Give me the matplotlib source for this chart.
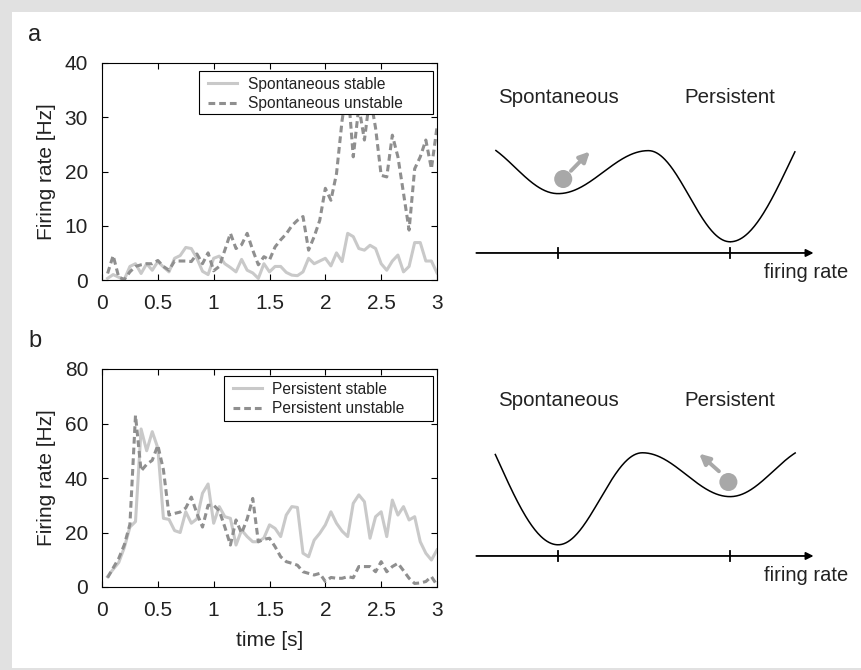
import numpy as np
import matplotlib
matplotlib.use("Agg")
import matplotlib.pyplot as plt
from matplotlib.patches import Rectangle, Circle

plt.rcParams["font.family"] = ["Liberation Sans", "DejaVu Sans"]
plt.rcParams["text.color"] = "#222222"
plt.rcParams["xtick.labelcolor"] = "#222222"
plt.rcParams["ytick.labelcolor"] = "#222222"
plt.rcParams["axes.labelcolor"] = "#222222"

# ---- data ---------------------------------------------------------------
time = [0.05, 0.10, 0.15, 0.20, 0.25, 0.30, 0.35, 0.40, 0.45, 0.50,
        0.55, 0.60, 0.65, 0.70, 0.75, 0.80, 0.85, 0.90, 0.95, 1.00,
        1.05, 1.10, 1.15, 1.20, 1.25, 1.30, 1.35, 1.40, 1.45, 1.50,
        1.55, 1.60, 1.65, 1.70, 1.75, 1.80, 1.85, 1.90, 1.95, 2.00,
        2.05, 2.10, 2.15, 2.20, 2.25, 2.30, 2.35, 2.40, 2.45, 2.50,
        2.55, 2.60, 2.65, 2.70, 2.75, 2.80, 2.85, 2.90, 2.95, 3.00]

spont_stable = [0.3, 1.0, 0.5, 0.1, 2.5, 3.0, 1.2, 3.0, 1.8, 3.4,
                2.4, 1.5, 4.0, 4.5, 6.0, 5.8, 4.0, 1.6, 1.0, 4.0,
                4.4, 3.0, 2.3, 1.5, 3.8, 1.8, 1.3, 0.3, 3.0, 1.5,
                2.5, 2.5, 1.4, 0.9, 0.8, 1.5, 4.0, 3.0, 3.5, 4.0,
                2.6, 5.0, 3.4, 8.6, 8.0, 5.8, 5.5, 6.4, 5.8, 3.0,
                1.8, 3.5, 4.6, 1.5, 2.5, 6.9, 6.9, 3.5, 3.5, 1.3]

spont_unstable = [1.2, 4.5, 0.5, 0.1, 1.5, 2.5, 2.8, 3.0, 3.0, 3.6,
                  2.5, 1.8, 3.5, 3.5, 3.5, 3.4, 4.8, 3.0, 5.0, 1.7,
                  2.5, 5.5, 8.6, 5.8, 6.5, 8.6, 5.5, 2.8, 4.3, 3.7,
                  6.1, 7.4, 8.5, 10.0, 11.0, 11.7, 5.5, 8.0, 11.0, 16.9,
                  14.7, 19.6, 29.4, 36.0, 22.7, 32.0, 25.8, 34.0, 28.0, 19.3,
                  19.0, 26.7, 22.7, 16.0, 9.2, 20.5, 22.7, 25.8, 20.5, 28.2]

pers_stable = [3.8, 6.5, 9.0, 14.5, 22.0, 24.0, 58.0, 50.0, 57.0, 51.0,
               25.2, 24.8, 20.7, 20.0, 27.6, 23.4, 25.0, 34.4, 37.8, 23.4,
               29.5, 25.8, 25.2, 15.4, 20.9, 18.5, 16.6, 16.6, 18.0, 22.8,
               21.5, 18.5, 26.4, 29.5, 29.2, 12.4, 11.1, 17.2, 19.7, 22.8,
               27.6, 23.4, 20.5, 18.5, 30.7, 33.8, 31.3, 17.9, 25.8, 27.6,
               18.5, 31.9, 26.4, 29.5, 24.6, 25.8, 16.6, 12.4, 9.9, 13.6]

pers_unstable = [3.4, 7.0, 10.5, 15.5, 23.0, 63.0, 42.6, 45.0, 46.5, 52.0,
                 43.0, 26.4, 27.0, 27.5, 29.0, 33.0, 27.0, 22.0, 30.0, 30.0,
                 28.0, 22.0, 15.4, 24.6, 19.7, 25.0, 32.5, 16.6, 17.5, 17.9,
                 14.8, 11.1, 9.3, 8.7, 8.0, 5.6, 5.0, 4.4, 5.0, 2.0,
                 3.5, 3.2, 3.2, 3.8, 3.4, 7.5, 7.5, 7.5, 5.6, 9.3,
                 5.6, 7.5, 8.7, 6.0, 3.2, 1.3, 1.5, 2.0, 3.8, 0.7]

x_ticks = [0, 0.5, 1, 1.5, 2, 2.5, 3]
x_ticklabels = ["0", "0.5", "1", "1.5", "2", "2.5", "3"]
yticks_a = [0, 10, 20, 30, 40]
yticks_b = [0, 20, 40, 60, 80]

# schematic energy landscapes: extrema (x, height), first/last are virtual ends
landscape_a = [(0.0, 1.30), (1.0, 0.69), (2.05, 1.19), (3.0, 0.13), (4.4, 2.0)]
landscape_b = [(-0.4, 2.1), (1.0, 0.13), (1.98, 1.20), (3.0, 0.69), (4.0, 1.28)]
curve_span = (0.27, 3.76)
state_pos = [1.0, 3.0]
state_names = ["Spontaneous", "Persistent"]
ball_a = (1.06, 0.86)
ball_b = (2.98, 0.86)
push_a = ((1.15, 0.955), (1.37, 1.18))
push_b = ((2.87, 0.985), (2.64, 1.19))

STABLE = "#c9c9c9"
UNSTABLE = "#8f8f8f"
BALL = "#a8a8a8"
FS = 15


def landscape(ext, lo, hi):
    xs, ys = [], []
    for (x0, y0), (x1, y1) in zip(ext[:-1], ext[1:]):
        seg = np.linspace(x0, x1, 120)
        xs.append(seg)
        ys.append(y0 + (y1 - y0) * (1 - np.cos(np.pi * (seg - x0) / (x1 - x0))) / 2)
    xs, ys = np.concatenate(xs), np.concatenate(ys)
    keep = (xs >= lo) & (xs <= hi)
    return xs[keep], ys[keep]


def trace_panel(ax, y1, y2, lab1, lab2, yticks, box):
    ax.plot(time, y1, color=STABLE, lw=2.2, label=lab1)
    ax.plot(time, y2, color=UNSTABLE, lw=2.2, ls=(0, (2.2, 1.3)), label=lab2)
    ax.set_xlim(0, 3)
    ax.set_ylim(yticks[0], yticks[-1])
    ax.set_xticks(x_ticks)
    ax.set_xticklabels(x_ticklabels)
    ax.set_yticks(yticks)
    ax.tick_params(direction="in", top=True, right=True, length=4.5,
                   width=0.8, labelsize=FS, pad=10)
    for s in ax.spines.values():
        s.set_linewidth(0.8)
    ax.set_ylabel("Firing rate [Hz]", fontsize=FS, labelpad=6)
    # legend box is wider than its text (extra room on the right)
    x0, y0, x1, y1_ = box
    ax.add_patch(Rectangle((x0, y0), x1 - x0, y1_ - y0, transform=ax.transAxes,
                           facecolor="white", edgecolor="black", lw=0.8,
                           zorder=4.8))
    leg = ax.legend(loc="upper left", bbox_to_anchor=(x0 + 0.012, y1_ - 0.005),
                    fontsize=11.2, frameon=False, handlelength=1.9,
                    borderpad=0.3, labelspacing=0.3, handletextpad=0.65,
                    borderaxespad=0)
    leg.set_zorder(5)


def well_panel(ax, ext, ball, push):
    ax.set_xlim(-0.14, 4.51)
    ax.set_ylim(-0.547, 2.244)
    ax.axis("off")
    xs, ys = landscape(ext, *curve_span)
    ax.plot(xs, ys, color="black", lw=1.1)
    ax.annotate("", xy=(3.97, 0), xytext=(0.05, 0),
                arrowprops=dict(arrowstyle="-|>", color="black", lw=1.3,
                                mutation_scale=11, shrinkA=0, shrinkB=0))
    for p, name in zip(state_pos, state_names):
        ax.plot([p, p], [-0.055, 0.055], color="black", lw=1.3)
        ax.text(p, 1.81, name, ha="center", va="center", fontsize=14.8)
    ax.text(4.37, -0.23, "firing rate", ha="right", va="center", fontsize=14.5)
    ax.add_patch(Circle(ball, 0.105, color=BALL, lw=0))
    ax.annotate("", xy=push[1], xytext=push[0],
                arrowprops=dict(arrowstyle="-|>", color=BALL, lw=2.8,
                                mutation_scale=15, shrinkA=0, shrinkB=0))


fig = plt.figure(figsize=(8.61, 6.70), dpi=100)
fig.patch.set_facecolor("#e1e1e1")
fig.patches.append(Rectangle((12 / 861, 2 / 670), 849 / 861, 656 / 670,
                             transform=fig.transFigure, facecolor="white",
                             edgecolor="none", zorder=-1))

ax_a = fig.add_axes([102 / 861, 1 - 280 / 670, 335 / 861, 217 / 670])
trace_panel(ax_a, spont_stable, spont_unstable, "Spontaneous stable",
            "Spontaneous unstable", yticks_a, (0.290, 0.765, 0.988, 0.963))

ax_b = fig.add_axes([102 / 861, 1 - 587 / 670, 335 / 861, 218 / 670])
trace_panel(ax_b, pers_stable, pers_unstable, "Persistent stable",
            "Persistent unstable", yticks_b, (0.364, 0.761, 0.988, 0.968))
ax_b.set_xlabel("time [s]", fontsize=FS, labelpad=8)

ax_wa = fig.add_axes([460 / 861, 1 - 300 / 670, 400 / 861, 240 / 670])
well_panel(ax_wa, landscape_a, ball_a, push_a)
ax_wb = fig.add_axes([460 / 861, 1 - 603 / 670, 400 / 861, 240 / 670])
well_panel(ax_wb, landscape_b, ball_b, push_b)

fig.text(28 / 861, 1 - 35 / 670, "a", fontsize=17, ha="left", va="center")
fig.text(28 / 861, 1 - 341 / 670, "b", fontsize=17, ha="left", va="center")

fig.savefig("out.png", dpi=100, facecolor=fig.get_facecolor())
